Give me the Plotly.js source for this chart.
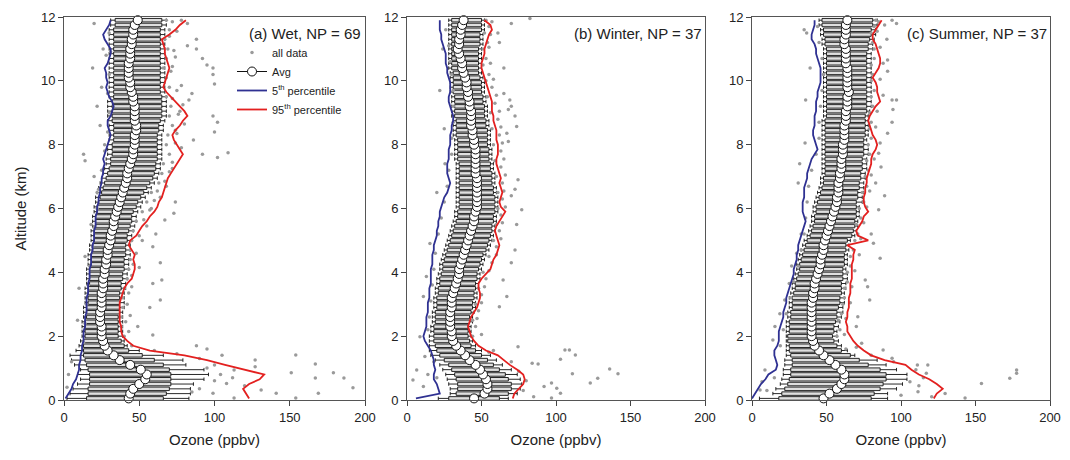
<!DOCTYPE html>
<html>
<head>
<meta charset="utf-8">
<script src="https://cdn.plot.ly/plotly-3.0.1.min.js"></script>
<style>html,body{margin:0;padding:0;background:#fff;}#chart{width:1070px;height:460px;}</style>
</head>
<body>
<div id="chart"></div>
<script>
// Altitude levels (km)
const altitude = [0.05,0.2,0.35,0.5,0.65,0.8,0.95,1.1,1.25,1.4,1.55,1.7,1.85,2.0,2.15,2.3,2.45,2.6,2.75,2.9,3.05,3.2,3.35,3.5,3.65,3.8,3.95,4.1,4.25,4.4,4.55,4.7,4.85,5.0,5.15,5.3,5.45,5.6,5.75,5.9,6.05,6.2,6.35,6.5,6.65,6.8,6.95,7.1,7.25,7.4,7.55,7.7,7.85,8.0,8.15,8.3,8.45,8.6,8.75,8.9,9.05,9.2,9.35,9.5,9.65,9.8,9.95,10.1,10.25,10.4,10.55,10.7,10.85,11.0,11.15,11.3,11.45,11.6,11.75,11.9];

// ---- (a) Wet ----
const wetAvg = [43,44,46,50,54,55,51,44,37,33, 29,27,26,25, 25,25,24,24,24,25,25, 25,25,26,26,26,27, 27,28,28,29,29,30,31, 31,32,33,33,34,35,36, 37,38,39,40,41,42, 42,43,44,45,46,46,47, 47,47,48,48,47,47,47, 47,46,46,45,44,44, 43,43,43,43,44,44,44, 45,45,46,46,47,49];
const wetP5 = [1,3,5,6,8,9,10, 10,11,11,12,12,13,13, 13,14,14,14,15,15,15, 15,16,16,16,17,17, 17,18,18,18,19,19,20, 20,20,21,21,21,22,22, 23,23,24,24,25,25, 26,26,27,26,27,28,29, 30,31,30,29,29,31,32, 33,32,30,29,28,29, 28,28,27,29,30,31,31, 29,27,26,28,30,31];
const wetP95 = [123,121,119,123,130,133,119,107,95,80,57,46,42,39, 38,38,37,37,37,37,37, 38,39,40,42,45,46, 47,47,46,47,45,43,44, 48,50,52,55,57,60,62, 63,65,66,67,68,69, 71,73,75,77,79,77,75, 73,72,74,77,79,82,80, 77,74,71,68,66,67, 68,69,70,69,68,67,67, 66,65,70,74,77,81];
const wetQ1 = [15,16,16,17,17,17,16,15,14,13, 13,13,13,14, 14,14,14,15,15,15,16, 16,16,16,17,17,17, 17,18,18,18,19,19,20, 20,20,21,21,21,22,22, 23,24,25,26,27,28, 29,30,31,31,32,32,32, 33,33,33,33,32,32,32, 32,32,33,33,33,33, 33,33,33,33,33,33,33, 33,33,33,33,34,34];
const wetQ3 = [66,68,70,71,71,71,70,66,60,52,43,40,38, 36,36,36,36,36,37,37,37, 37,37,38,38,39,39, 40,40,40,41,41,41,42, 42,43,44,45,45,46,48, 49,51,53,55,57,59, 60,61,61,62,62,62,62, 62,62,63,63,64,65,65, 65,65,65,64,64,64, 64,64,64,64,64,64,64, 64,64,64,64,65,65];
const wetWhiskLo = [2,4,6,9,11,9,11,7,5,4,8, 10,11,12, 12,12,12,13,13,13,14, 14,14,14,15,15,15, 15,16,16,16,17,17,18, 18,18,19,19,19,20,20, 21,21,22,23,24,25, 26,27,28,28,29,29,29, 30,30,30,30,29,29,29, 29,29,30,30,30,30, 30,30,30,30,30,30,30, 30,30,30,30,31,31];
const wetWhiskHi = [83,84,84,86,93,96,93,81,79,66,50, 42,40,39, 39,39,39,39,39,40,40, 40,40,41,41,42,42, 43,43,43,44,44,44,45, 45,46,47,48,48,49,51, 52,54,56,58,60,62, 63,64,64,65,65,65,65, 65,65,66,66,67,68,68, 68,68,68,67,67,67, 67,67,67,67,67,67,67, 67,67,67,67,68,68];
const wetDots = [[68,11.9],[72,11.85],[78,11.9],[70,11.6],[75,11.55],[82,11.8],[67,11.3],[88,11.3],[69,11.0],[82,11.1],[88,11.0],[68,10.7],[74,10.75],[92,10.7],[66,10.4],[72,10.45],[95,10.5],[99,10.4],[68,10.1],[99,10.2],[70,9.8],[78,9.85],[100,9.9],[68,9.5],[85,9.6],[72,9.45],[71,9.2],[79,9.25],[83,9.4],[70,8.9],[76,8.95],[99,8.9],[72,8.6],[80,8.65],[102,8.7],[69,8.3],[75,8.35],[100,8.4],[68,8.0],[86,8.15],[74,8.05],[70,7.7],[92,7.7],[102,7.6],[109,7.75],[66,7.4],[72,7.45],[65,7.1],[70,7.15],[63,6.8],[67,6.85],[58,6.5],[62,6.55],[55,6.2],[60,6.25],[74,6.2],[52,5.9],[57,5.95],[73,5.85],[48,5.6],[53,5.65],[67,5.64],[46,5.3],[61,5.2],[45,5.0],[52,5.0],[44,4.7],[59,4.8],[44,4.4],[64,4.3],[43,4.1],[50,4.15],[42,3.8],[65,3.76],[59,3.65],[40,3.5],[45,3.55],[39,3.2],[64,3.13],[39,2.9],[57,2.9],[38,2.6],[44,2.65],[38,2.3],[49,2.3],[40,2.0],[59,2.04],[45,1.7],
  [154,1.41],[167,1.13],[179,0.85],[186,0.69],[192,0.38],[151,0.85],[167,0.69],[169,0.21],[141,0.21],[127,1.25],[127,1.04],[113,0.94],[108,0.52],[131,0.31],[99,0.21],[154,0.06],[113,0.06],[105,1.4],[95,1.6],[88,1.7],[112,0.7],[120,0.45],[100,1.1],[90,0.35],[104,0.8],
  [20,11.8],[19,10.4],[22,9.2],[13,7.7],[14,7.5],[24,8.6],[22,6.5],[18,5.5],[14,4.5],[10,3.5],[9,2.5],[26,11.0],[25,9.8],[20,7.0],[3,0.8],[2,0.4],[5,1.2],[28,10.8],[27,8.0],
  [30,11.5],[31,10.9],[30,10.2],[29,9.6],[30,9.0],[29,8.4],[27,7.8],[25,7.2],[23,6.6],[22,6.0],[20,5.4],[19,4.8],[17,4.2],[16,3.6],[15,3.0],[14,2.4],[13,1.8],[70,11.4],[73,10.95],[71,10.3],[75,9.7],[77,9.05],[74,8.45],[78,7.9],[72,7.25],[68,6.7],[64,6.35],[58,6.0],[55,5.45],[50,5.15],[48,4.6],[46,4.25],[45,3.9],[43,3.35],[42,3.0],[41,2.45],[43,2.15],[60,1.55],[75,1.45],[90,1.3],[95,1.0],[100,0.6],[85,0.25]];

// ---- (b) Winter ----
const winAvg = [45,52,54,54,53,51,49,46,42,39,36,33,31,30, 30,29,29,29,29,30,30, 30,31,32,33,34,35, 35,36,37,38,39,40,41, 42,43,44,45,45,46,47, 47,47,47,47,47,47, 46,46,46,46,46,46,45, 45,44,44,43,43,43,43, 42,42,41,41,40,40, 39,38,37,37,36,35,34, 35,35,36,36,37,38];
const winP5 = [6,22,21,20,18,18,19,18,18,17,16,14,12,11, 12,13,13,13,14,14,14, 15,15,15,16,16,16, 16,17,17,17,18,18,19, 20,20,21,21,22,22,23, 24,25,27,28,29,28, 27,27,27,28,28,28,29, 29,29,30,30,31,31,30, 29,28,28,29,29,29, 28,27,27,26,26,26,25, 24,23,23,22,22,22];
const winP95 = [71,72,75,78,79,78,74,69,65,61,53,48,45,43, 42,41,42,43,45,47,48, 49,49,48,48,50,53, 56,57,58,60,61,62,61, 60,59,60,62,64,66,63, 62,63,64,63,62,63, 62,61,60,60,61,61,61, 60,60,60,59,58,58,57, 57,57,56,55,54,53, 52,51,50,50,51,52,52, 53,54,55,57,56,52];
const winQ1 = [28,33,34,34,33,32,30,28,25,22,20,19,18,18, 18,18,19,19,19,20,20, 20,21,21,22,22,23, 24,24,25,26,27,28,29, 30,31,32,33,34,34,35, 35,35,35,35,35,35, 35,35,35,34,34,34,34, 34,33,33,33,33,32,32, 32,32,32,31,31,31, 31,31,30,30,30,30,30, 30,30,30,30,30,30];
const winQ3 = [62,68,70,70,68,66,62,58,54,50,46,43,42,41, 41,41,42,42,43,44,44, 45,45,46,46,47,47, 48,49,50,51,53,54,55, 56,57,57,58,58,59,59, 59,59,58,58,57,57, 57,56,56,55,55,55,54, 54,54,54,53,53,52,52, 52,51,51,50,50,50, 49,48,48,48,48,48,48, 49,49,49,50,50,50];
const winWhiskLo = [21,29,29,28,27,26,24,22,19,16,15,15,15,15, 16,16,17,17,17,18,18, 18,19,19,20,20,21, 22,22,23,24,25,26,27, 28,29,30,31,32,32,33, 33,33,33,33,33,33, 33,33,33,32,32,32,32, 32,31,31,31,31,30,30, 30,30,30,29,29,29, 29,29,28,28,28,28,28, 28,28,28,28,28,28];
const winWhiskHi = [68,74,76,77,76,74,70,64,60,56,50,46,44,43, 43,43,44,44,45,46,46, 47,47,48,48,49,49, 50,51,52,53,55,56,57, 58,59,59,60,60,61,61, 61,61,60,60,59,59, 59,58,58,57,57,57,56, 56,56,56,55,55,54,54, 54,53,53,52,52,52, 51,50,50,50,50,50,50, 51,51,51,52,52,52];
const winDots = [[70,11.8],[82.5,11.95],[61,11.5],[62,11.2],[65,10.4],[69,9.4],[70,9.2],[72.5,8.9],[68,9.1],[73.6,8.57],[67,8.36],[74.5,6.9],[72.5,6.6],[70,6.4],[77,5.96],[73.6,5.5],[72.5,4.7],[70,4.3],[64.5,3.76],[67,3.24],[62,2.92],[74.5,1.67],[109,1.57],[113,1.41],[103,1.28],[84,1.15],[88,1.13],[136,0.97],[141.6,0.82],[128,0.68],[123,0.53],[97,0.53],[100.5,0.37],[92,0.42],[103,0.21],[97,0.06],[85,0.1],[111,0.82],[106,1.57],
  [53,11.9],[57,11.85],[52,11.5],[56,11.45],[51,11.0],[55,11.05],[51,10.5],[56,10.55],[53,10.0],[58,10.05],[54,9.5],[60,9.55],[65,9.6],[56,9.0],[62,9.05],[57,8.5],[63,8.55],[58,8.0],[64,8.05],[68,8.1],[59,7.5],[65,7.55],[60,7.0],[66,7.05],[61,6.5],[65,6.55],[61,6.0],[66,6.05],[60,5.5],[64,5.55],[58,5.0],[63,5.05],[55,4.5],[60,4.55],[51,4.0],[55,4.05],[48,3.5],[52,3.55],[46,3.0],[50,3.05],[44,2.5],[47,2.55],[44,2.0],[50,2.05],[55,1.5],[58,1.55],
  [22,9.7],[20,6.5],[25.5,7.4],[8.7,1.98],[6.5,0.94],[4,0.63],[12,1.36],[11,0.42],[14,0.8],[11,3.24],[13,3.87],[15.4,4.9],[24,11.0],[25,8.5],
  [26,11.6],[28,11.1],[29,10.6],[30,10.2],[31,9.7],[31,9.2],[31,8.7],[30,8.2],[30,7.7],[28,7.2],[27,6.7],[25,6.2],[23,5.7],[21,5.2],[19,4.6],[18,4.1],[17,3.6],[16,3.1],[15,2.6],[14,2.2],[55,11.7],[54,11.2],[53,10.7],[55,10.2],[57,9.8],[59,9.3],[61,8.8],[62,8.3],[63,7.8],[63,7.3],[64,6.8],[64,6.3],[63,5.8],[62,5.3],[60,4.8],[57,4.3],[53,3.8],[50,3.3],[48,2.8],[46,2.3],[70,1.2],[75,0.9],[80,0.6],[78,0.3],[18,1.2],[20,0.7]];

// ---- (c) Summer ----
const sumAvg = [48,52,57,60,62,62,60,56,52,48,45,42,41,40, 40,40,40,40,40,40,40, 41,41,42,42,43,44, 45,46,46,47,48,48,49, 50,51,52,53,54,55,56, 57,57,58,58,58,59, 59,60,60,60,61,61,61, 62,62,62,62,63,63,63, 64,64,64,65,64,64, 64,64,64,63,63,63,63, 62,62,63,63,63,64];
const sumP5 = [0,2,4,6,9,11,16,17,16,15,15,17,18,18, 18,19,20,21,21,22,23, 23,24,25,26,27,28, 28,29,30,30,31,31,32, 33,34,35,36,35,34,34, 34,35,35,35,36,37, 37,38,39,40,42,44,43, 42,41,41,42,42,42,43, 43,43,44,44,45,46, 46,46,46,45,44,43,43, 42,40,40,41,42,42];
const sumP95 = [122,124,128,124,119,112,107,103,89,80,75,71,68,66, 64,64,63,64,64,65,65, 65,66,66,66,67,67, 67,67,68,68,69,64,78, 71,70,72,74,75,78,76, 75,75,76,76,77,77, 78,79,80,80,81,83,84, 83,81,80,79,78,79,81, 83,86,85,84,84,83, 81,83,85,86,86,85,84, 83,81,81,83,85,87];
const sumQ1 = [18,20,22,24,25,26,26,27,27,26,25,25,24,24, 25,25,25,26,26,27,27, 27,28,29,29,30,31, 32,32,33,34,35,36,37, 39,40,41,42,42,43,43, 44,45,46,47,48,48, 49,49,49,49,49,49,49, 49,49,49,49,49,50,50, 50,50,50,50,50,50, 50,50,50,50,50,50,50, 49,49,48,48,47,47];
const sumQ3 = [80,82,86,88,90,90,86,78,72,66,60,57,55,54, 55,55,56,57,57,58,59, 59,60,60,60,61,61, 61,62,62,62,63,63,64, 67,68,69,69,70,70,70, 70,71,71,72,72,73, 73,74,74,74,75,75,75, 75,76,76,76,76,76,77, 77,77,77,77,77,77, 77,77,77,77,77,77,78, 78,79,80,80,81,81];
const sumWhiskLo = [5,14,16,19,20,21,21,22,22,23,23,23,23,23, 23,23,23,24,24,25,25, 25,26,27,27,28,29, 30,30,31,32,33,34,35, 37,38,39,40,40,41,41, 42,43,44,45,46,46, 47,47,47,47,47,47,47, 47,47,47,47,47,48,48, 48,48,48,48,48,48, 48,48,48,48,48,48,48, 47,47,46,46,45,45];
const sumWhiskHi = [91,91,97,101,104,104,97,90,84,69,64,60,58,57, 57,58,59,60,61,61,62, 62,62,63,63,64,64, 63,64,64,64,65,65,66, 69,70,71,71,72,72,72, 74,74,75,75,75,76, 76,77,77,77,78,78,78, 77,78,78,78,78,78,79, 80,80,80,80,80,80, 80,80,80,80,80,80,81, 81,82,83,83,84,84];
const sumDots = [[94,11.9],[97,11.8],[89,11.75],[90.5,11.3],[91,10.65],[91,10.3],[94,9.4],[94.6,9.1],[94,8.7],[97,9.4],[91,8.36],[85,7.73],[86.6,7.3],[83,6.8],[89,6.4],[85,5.96],[80,5.2],[81.5,4.91],[86,4.44],[76,3.76],[77.6,3.55],[79,3.13],[71,2.61],[70,2.3],[73.6,1.78],[88,1.57],[94,1.31],[111,1.1],[118,1.1],[117,0.84],[106,0.57],[111.4,0.26],[120.6,0.1],[129.6,0.2],[143,0.06],[154,0.52],[173,0.68],[177.6,0.94],[177.6,0.84],
  [83,11.9],[85,11.85],[80,11.5],[84,11.55],[82,11.0],[86,11.05],[80,10.5],[88,10.55],[80,10.0],[86,10.05],[80,9.5],[88,9.55],[79,9.0],[84,9.05],[79,8.5],[83,8.55],[78,8.0],[86,8.05],[77,7.5],[82,7.55],[76,7.0],[80,7.05],[74,6.5],[79,6.55],[72,6.0],[77,6.05],[70,5.5],[75,5.55],[69,5.0],[73,5.05],[66,4.5],[72,4.55],[64,4.0],[69,4.05],[62,3.5],[67,3.55],[61,3.0],[66,3.05],[58,2.5],[63,2.55],[57,2.0],[62,2.05],[63,1.6],[70,1.65],
  [36.7,11.5],[35,11.6],[39,10.4],[36,9.4],[35.6,8.05],[32,7.4],[31,6.8],[8.7,0.94],[6.7,0.57],[5.4,0.31],[14,1.88],[15.4,2.3],[18.7,2.7],[22,3.13],[25,3.65],[26.6,4.2],[30,4.6],[33,5.2],
  [44,11.7],[45,11.2],[47,10.7],[48,10.2],[47,9.7],[46,9.2],[45,8.7],[45,8.2],[43,7.7],[40,7.2],[38,6.7],[37,6.2],[36,5.7],[35,5.2],[33,4.7],[31,4.2],[28,3.7],[26,3.2],[23,2.7],[21,2.2],[19,1.7],[82,11.7],[81,11.2],[82,10.7],[81,10.2],[82,9.7],[81,9.2],[80,8.7],[80,8.2],[79,7.7],[78,7.2],[77,6.7],[75,6.2],[73,5.7],[71,5.2],[68,4.7],[66,4.2],[64,3.7],[62,3.2],[60,2.7],[59,2.2],[80,1.4],[95,1.2],[110,0.95],[115,0.7],[112,0.45],[100,0.15],[15,0.7],[10,0.3]];

const panelLabels = ['(a) Wet, NP = 69', '(b) Winter, NP = 37', '(c) Summer, NP = 37'];
const xTicks = [0, 50, 100, 150, 200];
const yTicks = [0, 2, 4, 6, 8, 10, 12];

const panels = [
  {avg: wetAvg, p5: wetP5, p95: wetP95, q1: wetQ1, q3: wetQ3, wl: wetWhiskLo, wh: wetWhiskHi, dots: wetDots, xa: 'x', ya: 'y'},
  {avg: winAvg, p5: winP5, p95: winP95, q1: winQ1, q3: winQ3, wl: winWhiskLo, wh: winWhiskHi, dots: winDots, xa: 'x2', ya: 'y2'},
  {avg: sumAvg, p5: sumP5, p95: sumP95, q1: sumQ1, q3: sumQ3, wl: sumWhiskLo, wh: sumWhiskHi, dots: sumDots, xa: 'x3', ya: 'y3'}
];

const BLUE = '#2f3192', RED = '#e3201f', GREY = '#9a9a9a';
const traces = [];
panels.forEach((p, i) => {
  const first = i === 0;
  traces.push({
    type: 'box', orientation: 'h', y: altitude,
    q1: p.q1, median: p.avg, q3: p.q3, lowerfence: p.wl, upperfence: p.wh,
    width: 0.11, whiskerwidth: 1, boxpoints: false,
    line: {color: '#111', width: 0.9}, fillcolor: 'rgba(150,150,150,0.3)',
    xaxis: p.xa, yaxis: p.ya, showlegend: false, hoverinfo: 'skip'
  });
  traces.push({
    type: 'scatter', mode: 'markers', name: 'all data',
    x: p.dots.map(d => d[0]), y: p.dots.map(d => d[1]),
    marker: {size: 3.5, color: GREY},
    xaxis: p.xa, yaxis: p.ya, showlegend: first, legendrank: 1, hoverinfo: 'skip'
  });
  traces.push({
    type: 'scatter', mode: 'lines', name: '5<sup>th</sup> percentile',
    x: p.p5, y: altitude, line: {color: BLUE, width: 1.8},
    xaxis: p.xa, yaxis: p.ya, showlegend: first, legendrank: 3
  });
  traces.push({
    type: 'scatter', mode: 'lines', name: '95<sup>th</sup> percentile',
    x: p.p95, y: altitude, line: {color: RED, width: 1.8},
    xaxis: p.xa, yaxis: p.ya, showlegend: first, legendrank: 4
  });
  traces.push({
    type: 'scatter', mode: 'lines+markers', name: 'Avg',
    x: p.avg, y: altitude, line: {color: '#111', width: 1},
    marker: {size: 9, color: '#fff', line: {color: '#111', width: 1}},
    cliponaxis: false,
    xaxis: p.xa, yaxis: p.ya, showlegend: first, legendrank: 2
  });
});

const FONT = 'Liberation Sans, Arial, sans-serif';
const W = 1070, H = 460;
const yDom = [(H - 400) / H, (H - 17) / H];
function xAxis(l, r) {
  return {
    domain: [l / W, r / W], range: [0, 200], tickvals: xTicks,
    ticks: 'outside', ticklen: 5, tickcolor: '#444', showline: true, mirror: true,
    linecolor: '#555', linewidth: 1, showgrid: false, zeroline: false,
    tickfont: {family: FONT, size: 13, color: '#222'},
    title: {text: 'Ozone (ppbv)', font: {family: FONT, size: 15, color: '#222'}, standoff: 10}
  };
}
function yAxis(anchor, withTitle) {
  const ax = {
    domain: yDom, range: [0, 12], tickvals: yTicks, anchor: anchor,
    ticks: 'outside', ticklen: 5, tickcolor: '#444', showline: true, mirror: true,
    linecolor: '#555', linewidth: 1, showgrid: false, zeroline: false,
    tickfont: {family: FONT, size: 13, color: '#222'}
  };
  if (withTitle) ax.title = {text: 'Altitude (km)', font: {family: FONT, size: 15, color: '#222'}, standoff: 10};
  return ax;
}

const layout = {
  width: W, height: H, margin: {l: 0, r: 0, t: 0, b: 0},
  paper_bgcolor: '#fff', plot_bgcolor: '#fff',
  font: {family: FONT, color: '#222'},
  showlegend: true,
  legend: {x: 232 / W, y: (H - 38) / H, xanchor: 'left', yanchor: 'top',
           bgcolor: 'rgba(0,0,0,0)', font: {family: FONT, size: 11, color: '#222'},
           traceorder: 'normal', itemwidth: 30},
  xaxis: Object.assign(xAxis(64, 365), {anchor: 'y'}),
  xaxis2: Object.assign(xAxis(407, 705), {anchor: 'y2'}),
  xaxis3: Object.assign(xAxis(752, 1050), {anchor: 'y3'}),
  yaxis: yAxis('x', true),
  yaxis2: yAxis('x2', false),
  yaxis3: yAxis('x3', false),
  annotations: panelLabels.map((t, i) => ({
    text: t, showarrow: false,
    xref: (i === 0 ? 'x' : 'x' + (i + 1)) + ' domain', yref: (i === 0 ? 'y' : 'y' + (i + 1)) + ' domain',
    x: 0.995, y: 0.985, xanchor: 'right', yanchor: 'top',
    font: {family: FONT, size: 15, color: '#222'}
  }))
};

Plotly.newPlot('chart', traces, layout, {displayModeBar: false, staticPlot: true});
</script>
</body>
</html>
